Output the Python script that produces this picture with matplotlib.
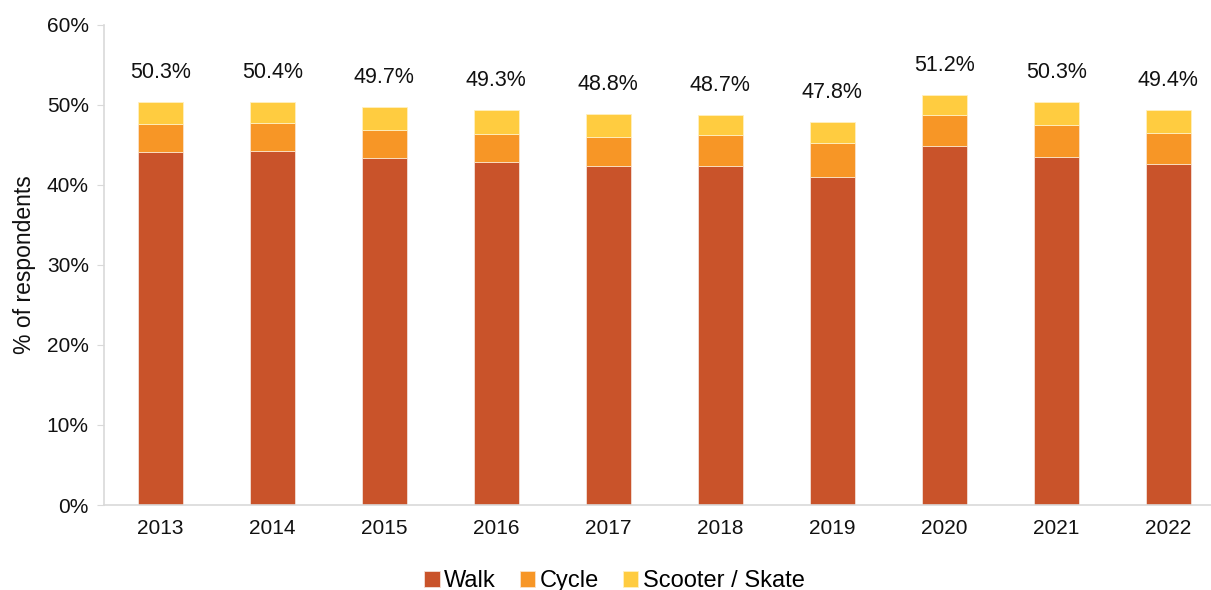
import numpy as np
import matplotlib
matplotlib.use("Agg")
import matplotlib.pyplot as plt
from matplotlib.ticker import FuncFormatter

plt.rcParams["font.family"] = ["Liberation Sans", "DejaVu Sans"]

years = ["2013", "2014", "2015", "2016", "2017", "2018", "2019", "2020", "2021", "2022"]
walk = [44.1, 44.2, 43.3, 42.9, 42.3, 42.4, 41.0, 44.8, 43.5, 42.6]
cycle = [3.5, 3.5, 3.5, 3.5, 3.7, 3.85, 4.2, 3.9, 4.0, 3.9]
scooter = [2.7, 2.7, 2.9, 2.9, 2.8, 2.45, 2.6, 2.5, 2.8, 2.9]
totals = [50.3, 50.4, 49.7, 49.3, 48.8, 48.7, 47.8, 51.2, 50.3, 49.4]

C_WALK = "#C9532A"
C_CYCLE = "#F79626"
C_SCOOT = "#FFCC40"

fig = plt.figure(figsize=(12.11, 5.9), dpi=100)
ax = fig.add_axes([0.086, 0.144, 0.914, 0.814])

x = np.arange(len(years))
w = 0.4
walk = np.array(walk); cycle = np.array(cycle); scooter = np.array(scooter)
ax.bar(x, walk, w, color=C_WALK, edgecolor="#f3e0d6", lw=0.6, label="Walk")
ax.bar(x, cycle, w, bottom=walk, color=C_CYCLE, edgecolor="#fbe3c8", lw=0.6, label="Cycle")
ax.bar(x, scooter, w, bottom=walk + cycle, color=C_SCOOT, edgecolor="#fff0c0", lw=0.6,
       label="Scooter / Skate")

# total labels above each stack
for xi, t in zip(x, totals):
    ax.text(xi, t + 3.7, f"{t:.1f}%", ha="center", va="center", fontsize=15.5, color="#111111")

ax.set_ylim(0, 60)
ax.set_yticks(np.arange(0, 61, 10))
ax.yaxis.set_major_formatter(FuncFormatter(lambda v, p: f"{v:.0f}%"))
ax.set_xlim(-0.5, 9.38)
ax.set_xticks(x)
ax.set_xticklabels(years)
ax.tick_params(axis="y", length=5, color="#d9d9d9", labelsize=15, labelcolor="#111111", pad=6)
ax.tick_params(axis="x", length=0, labelsize=15, labelcolor="#111111", pad=10)
for s in ["top", "right"]:
    ax.spines[s].set_visible(False)
for s in ["left", "bottom"]:
    ax.spines[s].set_color("#d9d9d9")
    ax.spines[s].set_linewidth(1.2)
ax.set_ylabel("% of respondents", fontsize=16.5, color="#111111", labelpad=8)

ax.legend(loc="center", bbox_to_anchor=(0.5 - 0.039, -0.158), ncol=3, frameon=False,
          fontsize=17, handlelength=0.65, handleheight=0.65, handletextpad=0.2,
          columnspacing=1.0, borderaxespad=0)

fig.savefig("out.png", dpi=100)
